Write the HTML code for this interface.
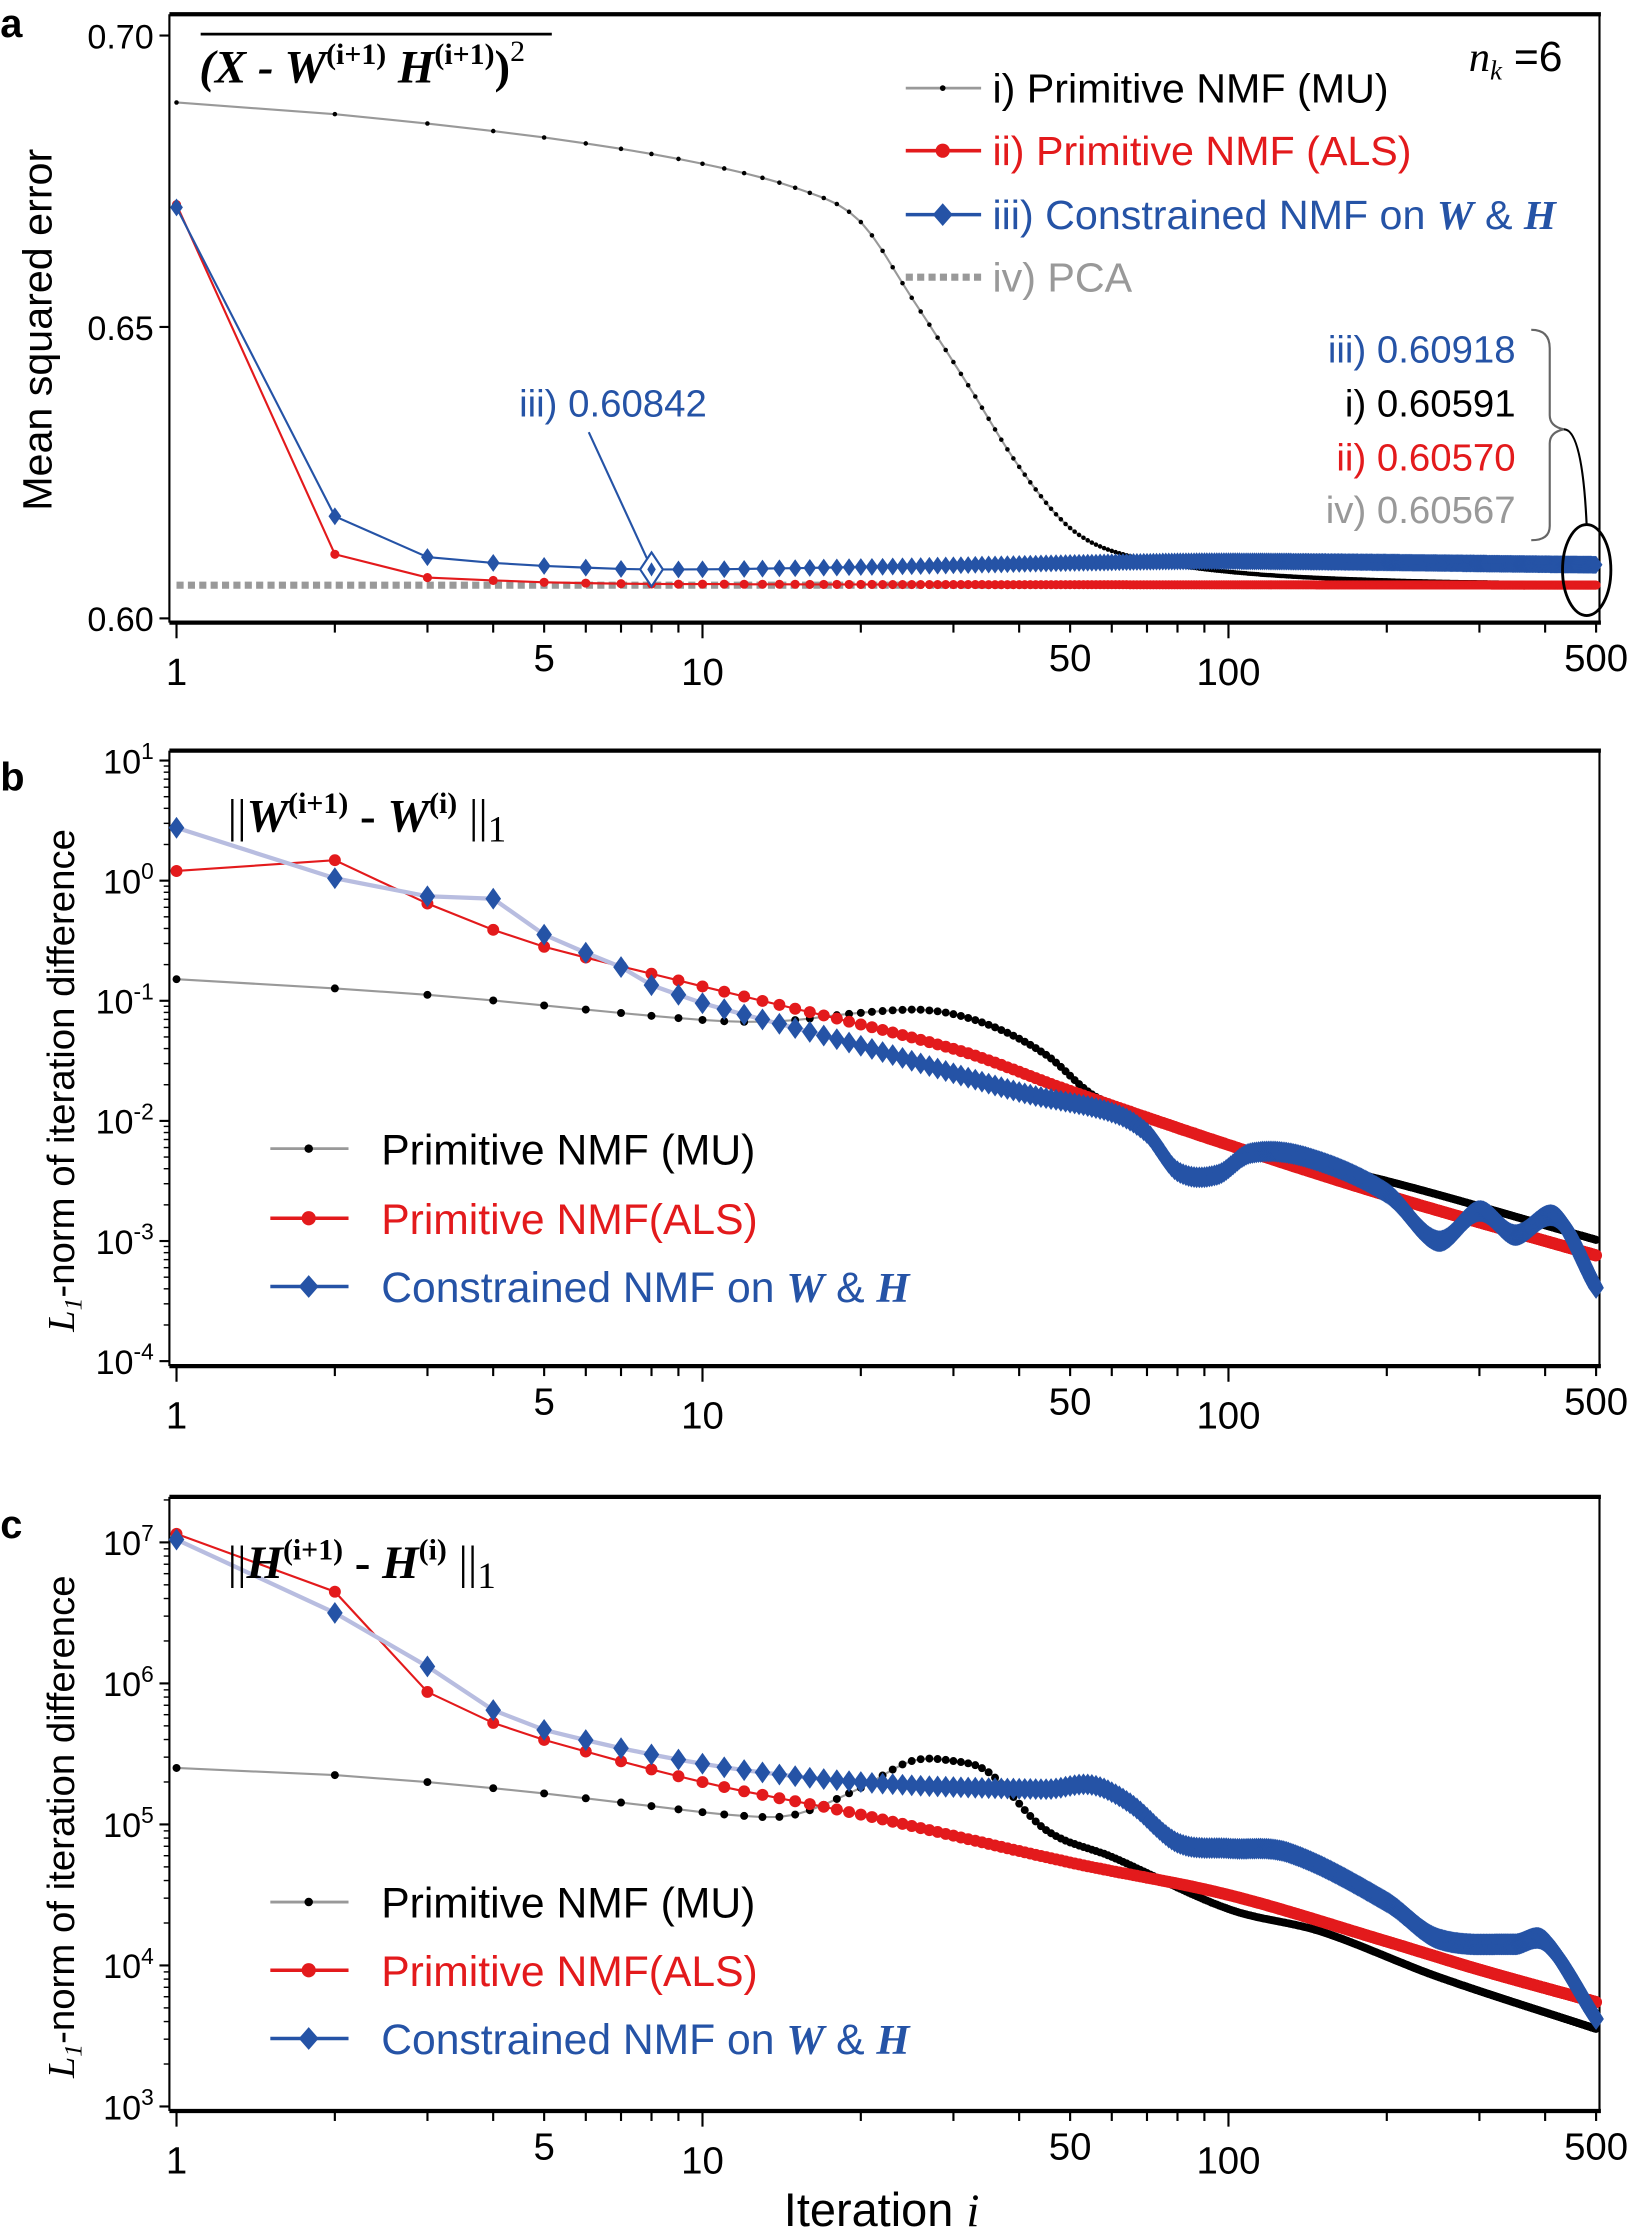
<!DOCTYPE html>
<html><head><meta charset="utf-8">
<style>html,body{margin:0;padding:0;background:#fff}svg{display:block}</style>
</head><body>
<svg id="s" xmlns="http://www.w3.org/2000/svg" width="1631" height="2229" viewBox="0 0 1147 1568" font-family="Liberation Sans, sans-serif">
<rect width="1147" height="1568" fill="#fff"/>
<g id="plots"></g>
<text x="0" y="26" font-size="28" font-weight="bold">a</text>
<text x="0" y="556" font-size="28" font-weight="bold">b</text>
<text x="0" y="1082" font-size="28" font-weight="bold">c</text>
<text transform="translate(36,232) rotate(-90)" text-anchor="middle" font-size="29">Mean squared error</text>
<text transform="translate(52,760) rotate(-90)" text-anchor="middle" font-size="27"><tspan font-family="Liberation Serif, serif" font-style="italic">L</tspan><tspan font-family="Liberation Serif, serif" font-style="italic" font-size="18" dy="5">1</tspan><tspan dy="-5">-norm of iteration difference</tspan></text>
<text transform="translate(52,1285) rotate(-90)" text-anchor="middle" font-size="27"><tspan font-family="Liberation Serif, serif" font-style="italic">L</tspan><tspan font-family="Liberation Serif, serif" font-style="italic" font-size="18" dy="5">1</tspan><tspan dy="-5">-norm of iteration difference</tspan></text>
<text x="620" y="1566" text-anchor="middle" font-size="33">Iteration <tspan font-family="Liberation Serif, serif" font-style="italic">i</tspan></text>
<line x1="141" y1="24" x2="388" y2="24" stroke="#000" stroke-width="2"/>
<text x="140" y="58" font-family="Liberation Serif, serif" font-weight="bold" font-style="italic" font-size="33">(X - W<tspan font-size="21" dy="-13" font-style="normal">(i+1)</tspan><tspan dy="13"> H</tspan><tspan font-size="21" dy="-13" font-style="normal">(i+1)</tspan><tspan dy="13" font-style="normal">)</tspan><tspan font-size="21" dy="-15" font-style="normal" font-weight="normal">2</tspan></text>
<text x="1033" y="50" font-size="30"><tspan font-family="Liberation Serif, serif" font-style="italic">n</tspan><tspan font-family="Liberation Serif, serif" font-style="italic" font-size="19" dy="6">k</tspan><tspan dy="-6"> =6</tspan></text>
<line x1="637" y1="62" x2="690" y2="62" stroke="#999" stroke-width="2"/><circle cx="663" cy="62" r="2" fill="#000"/>
<text x="698" y="72" font-size="29">i)  Primitive NMF (MU)</text>
<line x1="637" y1="106" x2="690" y2="106" stroke="#e31a1c" stroke-width="2.5"/><circle cx="663" cy="106" r="5" fill="#e31a1c"/>
<text x="698" y="116" font-size="29" fill="#e31a1c">ii)  Primitive NMF (ALS)</text>
<line x1="637" y1="151" x2="690" y2="151" stroke="#2553a6" stroke-width="2.5"/><path d="M663 143 L670 151 L663 159 L656 151Z" fill="#2553a6"/>
<text x="698" y="161" font-size="29" fill="#2553a6">iii) Constrained NMF on <tspan font-family="Liberation Serif, serif" font-weight="bold" font-style="italic">W</tspan> &amp; <tspan font-family="Liberation Serif, serif" font-weight="bold" font-style="italic">H</tspan></text>
<line x1="637" y1="195" x2="690" y2="195" stroke="#999" stroke-width="5" stroke-dasharray="5,3"/>
<text x="698" y="205" font-size="29" fill="#999">iv) PCA</text>
<g font-size="27" text-anchor="end">
<text x="1066" y="255" fill="#2553a6">iii) 0.60918</text>
<text x="1066" y="293">i) 0.60591</text>
<text x="1066" y="331" fill="#e31a1c">ii) 0.60570</text>
<text x="1066" y="368" fill="#999">iv) 0.60567</text>
</g>
<path d="M1077 232 Q1090 232 1090 245 L1090 292 Q1090 300 1100 302 Q1090 304 1090 312 L1090 370 Q1090 380 1077 380" fill="none" stroke="#666" stroke-width="1.5"/>
<path d="M1100 302 Q1113 302 1116 370" fill="none" stroke="#000" stroke-width="1.5"/>
<ellipse cx="1116" cy="401" rx="17" ry="32" fill="none" stroke="#000" stroke-width="2"/>
<text x="365" y="293" font-size="27" fill="#2553a6">iii) 0.60842</text>
<line x1="414" y1="304" x2="455" y2="393" stroke="#2553a6" stroke-width="1.5"/>
<text x="160" y="585" font-family="Liberation Serif, serif" font-size="33">||<tspan font-weight="bold" font-style="italic">W</tspan><tspan font-size="21" dy="-13" font-weight="bold">(i+1)</tspan><tspan dy="13" font-weight="bold"> - </tspan><tspan font-weight="bold" font-style="italic">W</tspan><tspan font-size="21" dy="-13" font-weight="bold">(i)</tspan><tspan dy="13"> ||</tspan><tspan font-size="26" dy="7">1</tspan></text>
<text x="160" y="1110" font-family="Liberation Serif, serif" font-size="33">||<tspan font-weight="bold" font-style="italic">H</tspan><tspan font-size="21" dy="-13" font-weight="bold">(i+1)</tspan><tspan dy="13" font-weight="bold"> - </tspan><tspan font-weight="bold" font-style="italic">H</tspan><tspan font-size="21" dy="-13" font-weight="bold">(i)</tspan><tspan dy="13"> ||</tspan><tspan font-size="26" dy="7">1</tspan></text>
</svg>
<script>
var out=[];
function X(i){return 124+370*Math.log10(i);}
function interp(pts,i){var l=Math.log10(i),n=pts.length;
 var xs=pts.map(function(p){return Math.log10(p[0]);}),ys=pts.map(function(p){return p[1];});
 for(var k=0;k<n-1;k++){var a=xs[k],b=xs[k+1];
  if(l>=a&&l<=b){var h=b-a;if(h==0)return ys[k];var t=(l-a)/h;
   var m0=k>0?(ys[k+1]-ys[k-1])/(xs[k+1]-xs[k-1]):(ys[k+1]-ys[k])/h;
   var m1=k<n-2?(ys[k+2]-ys[k])/(xs[k+2]-xs[k]):(ys[k+1]-ys[k])/h;
   var t2=t*t,t3=t2*t;
   return (2*t3-3*t2+1)*ys[k]+(t3-2*t2+t)*h*m0+(-2*t3+3*t2)*ys[k+1]+(t3-t2)*h*m1;}}
 return ys[n-1];}
function series(pts,Y,col,lineCol,lw,mk,ms){
 var d="";for(var i=1;i<=500;i++){d+=(i==1?"M":"L")+X(i).toFixed(1)+" "+Y(interp(pts,i)).toFixed(1);}
 out.push('<path d="'+d+'" fill="none" stroke="'+lineCol+'" stroke-width="'+lw+'"/>');
 for(var i=1;i<=500;i++){var x=X(i),y=Y(interp(pts,i));
  if(mk=="c")out.push('<circle cx="'+x.toFixed(1)+'" cy="'+y.toFixed(1)+'" r="'+ms+'" fill="'+col+'"/>');
  else out.push('<path d="M'+x.toFixed(1)+' '+(y-ms*1.4).toFixed(1)+'l'+ms+' '+(ms*1.4)+'l-'+ms+' '+(ms*1.4)+'l-'+ms+' -'+(ms*1.4)+'z" fill="'+col+'"/>');}
}
function frame(top,bot,yticks,minors){
 out.push('<line x1="119" y1="'+top+'" x2="1126" y2="'+top+'" stroke="#000" stroke-width="3"/>');
 out.push('<line x1="119" y1="'+bot+'" x2="1126" y2="'+bot+'" stroke="#000" stroke-width="3"/>');
 out.push('<line x1="119" y1="'+top+'" x2="119" y2="'+bot+'" stroke="#000" stroke-width="1.5"/>');
 out.push('<line x1="1125" y1="'+top+'" x2="1125" y2="'+bot+'" stroke="#000" stroke-width="1.5"/>');
 var maj=[1,10,100];
 [1,2,3,4,5,6,7,8,9,10,20,30,40,50,60,70,80,90,100,200,300,400,500].forEach(function(i){
  var L=(maj.indexOf(i)>=0)?11:7;out.push('<line x1="'+X(i)+'" y1="'+bot+'" x2="'+X(i)+'" y2="'+(bot+L)+'" stroke="#000" stroke-width="1.5"/>');});
 var lb=[[1,"1",bot+44],[5,"5",bot+34],[10,"10",bot+44],[50,"50",bot+34],[100,"100",bot+44],[500,"500",bot+34]];
 lb.forEach(function(a){out.push('<text x="'+X(a[0])+'" y="'+a[2]+'" font-size="27" text-anchor="middle">'+a[1]+'</text>');});
 yticks.forEach(function(t){out.push('<line x1="112" y1="'+t[0]+'" x2="119" y2="'+t[0]+'" stroke="#000" stroke-width="1.5"/>');
  out.push('<text x="108" y="'+(t[0]+9)+'" font-size="24" text-anchor="end">'+t[1]+'</text>');});
 (minors||[]).forEach(function(y){out.push('<line x1="115" y1="'+y+'" x2="119" y2="'+y+'" stroke="#000" stroke-width="1"/>');});
}
var Ya=function(v){return 25+(0.70-v)*4100;};
frame(10,438,[[Ya(0.70),"0.70"],[Ya(0.65),"0.65"],[Ya(0.60),"0.60"]]);
out.push('<line x1="124" y1="'+Ya(0.6057)+'" x2="1122" y2="'+Ya(0.6057)+'" stroke="#999" stroke-width="5" stroke-dasharray="5,3"/>');
series([[1,0.6885],[2,0.6865],[5,0.6825],[10,0.678],[16,0.673],[20,0.668],[25,0.655],[32,0.64],[40,0.626],[50,0.6155],[63,0.611],[100,0.608],[200,0.6065],[500,0.6059]],Ya,"#000","#999",1.5,"c",1.6);
series([[1,0.671],[2,0.611],[3,0.607],[4,0.6065],[5,0.6062],[8,0.6059],[500,0.6057]],Ya,"#e31a1c","#e31a1c",1.5,"c",3.2);
series([[1,0.6705],[2,0.6175],[3,0.6105],[4,0.6095],[5,0.609],[8,0.6084],[20,0.6088],[50,0.6095],[100,0.6098],[500,0.6092]],Ya,"#2553a6","#2553a6",1.5,"d",4.5);
out.push('<path d="M'+X(8)+' '+(Ya(0.6084)-12)+'l8 12l-8 12l-8 -12z" fill="#fff" stroke="#2553a6" stroke-width="1.5"/>');
out.push('<path d="M'+X(8)+' '+(Ya(0.6084)-5)+'l3 5l-3 5l-3 -5z" fill="#2553a6"/>');
var Yb=function(v){return 535+(1-v)*84.5;};
var ytb=[];for(var e=1;e>=-4;e--)ytb.push([Yb(e),'10<tspan font-size="16" dy="-10">'+e+'</tspan>']);
var mb=[];for(var e=0;e>=-4;e--)for(var m=2;m<=9;m++)mb.push(Yb(e+Math.log10(m)));
frame(528,961,ytb,mb);
series([[1,-0.82],[3,-0.95],[10,-1.16],[14,-1.17],[20,-1.1],[27,-1.08],[35,-1.2],[45,-1.45],[56,-1.8],[80,-2.05],[100,-2.2],[200,-2.5],[500,-2.99]],Yb,"#000","#999",1.5,"c",2.8);
series([[1,0.08],[2,0.17],[3,-0.19],[4,-0.41],[5,-0.55],[10,-0.88],[30,-1.4],[50,-1.75],[100,-2.2],[200,-2.62],[500,-3.12]],Yb,"#e31a1c","#e31a1c",1.5,"c",4.2);
series([[1,0.44],[2,0.02],[3,-0.13],[4,-0.15],[5,-0.45],[6,-0.6],[7,-0.72],[8,-0.87],[9,-0.95],[10,-1.02],[20,-1.375],[40,-1.76],[60,-1.93],[70,-2.1],[80,-2.42],[95,-2.45],[110,-2.27],[140,-2.3],[200,-2.6],[250,-3.0],[300,-2.75],[350,-2.95],[420,-2.8],[500,-3.39]],Yb,"#2553a6","#b8bde0",3,"d",5.5);
var Yc=function(v){return 1085+(7-v)*99.2;};
var ytc=[];for(var e=7;e>=3;e--)ytc.push([Yc(e),'10<tspan font-size="16" dy="-10">'+e+'</tspan>']);
var mc=[];for(var e=3;e<=7;e++)for(var m=2;m<=9;m++){var y=Yc(e+Math.log10(m));if(y>1053)mc.push(y);}
frame(1053,1485,ytc,mc);
series([[1,5.4],[2,5.35],[3,5.3],[5,5.22],[8,5.13],[12,5.06],[15,5.07],[20,5.26],[25,5.45],[30,5.45],[35,5.37],[45,4.96],[60,4.77],[100,4.4],[150,4.24],[250,3.92],[500,3.55]],Yc,"#000","#999",1.5,"c",2.8);
series([[1,7.06],[2,6.65],[3,5.94],[4,5.72],[5,5.6],[10,5.3],[20,5.07],[50,4.73],[100,4.5],[200,4.17],[300,3.97],[500,3.74]],Yc,"#e31a1c","#e31a1c",1.5,"c",4.2);
series([[1,7.02],[2,6.5],[3,6.12],[4,5.81],[5,5.67],[10,5.43],[20,5.3],[45,5.25],[55,5.28],[65,5.15],[80,4.87],[100,4.83],[130,4.8],[200,4.45],[250,4.19],[350,4.15],[400,4.17],[500,3.62]],Yc,"#2553a6","#b8bde0",3,"d",5.5);
[[808,857,905],[1338,1386,1434]].forEach(function(ys){
 out.push('<line x1="190" y1="'+ys[0]+'" x2="245" y2="'+ys[0]+'" stroke="#999" stroke-width="2"/><circle cx="217" cy="'+ys[0]+'" r="3" fill="#000"/>');
 out.push('<text x="268" y="'+(ys[0]+11)+'" font-size="30">Primitive NMF (MU)</text>');
 out.push('<line x1="190" y1="'+ys[1]+'" x2="245" y2="'+ys[1]+'" stroke="#e31a1c" stroke-width="2.5"/><circle cx="217" cy="'+ys[1]+'" r="5" fill="#e31a1c"/>');
 out.push('<text x="268" y="'+(ys[1]+11)+'" font-size="30" fill="#e31a1c">Primitive NMF(ALS)</text>');
 out.push('<line x1="190" y1="'+ys[2]+'" x2="245" y2="'+ys[2]+'" stroke="#2553a6" stroke-width="2.5"/><path d="M217 '+(ys[2]-8)+'l7 8l-7 8l-7 -8z" fill="#2553a6"/>');
 out.push('<text x="268" y="'+(ys[2]+11)+'" font-size="30" fill="#2553a6">Constrained NMF on <tspan font-family="Liberation Serif, serif" font-weight="bold" font-style="italic">W</tspan> &amp; <tspan font-family="Liberation Serif, serif" font-weight="bold" font-style="italic">H</tspan></text>');
});
document.getElementById("plots").innerHTML=out.join("");
</script>
</body></html>
